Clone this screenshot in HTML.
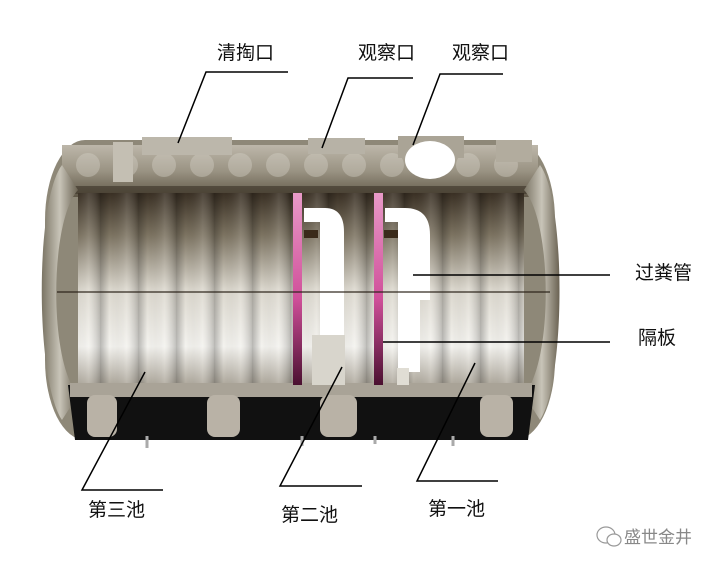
<!DOCTYPE html>
<html><head><meta charset="utf-8"><style>
html,body{margin:0;padding:0;background:#fff;}
svg{display:block}
text{font-family:"Liberation Sans","Noto Sans CJK SC",sans-serif;}
</style></head><body>
<svg width="720" height="567" viewBox="0 0 720 567" xmlns="http://www.w3.org/2000/svg">
<defs>
<linearGradient id="inner" x1="0" y1="0" x2="0" y2="1">
<stop offset="0" stop-color="#3a3024"/>
<stop offset="0.22" stop-color="#7d7462"/>
<stop offset="0.5" stop-color="#dcd8ce"/>
<stop offset="0.8" stop-color="#f4f3ef"/>
<stop offset="1" stop-color="#aea89c"/>
</linearGradient>
<linearGradient id="rib" x1="0" y1="0" x2="1" y2="0">
<stop offset="0" stop-color="#000" stop-opacity="0.25"/>
<stop offset="0.25" stop-color="#000" stop-opacity="0"/>
<stop offset="0.7" stop-color="#fff" stop-opacity="0.12"/>
<stop offset="1" stop-color="#000" stop-opacity="0.2"/>
</linearGradient>
<pattern id="ribs" x="62" y="0" width="38" height="600" patternUnits="userSpaceOnUse">
<rect width="38" height="600" fill="url(#rib)"/>
</pattern>
<linearGradient id="top" x1="0" y1="0" x2="0" y2="1">
<stop offset="0" stop-color="#bdb7aa"/>
<stop offset="0.5" stop-color="#9a9383"/>
<stop offset="1" stop-color="#5f5747"/>
</linearGradient>
<linearGradient id="pink" x1="0" y1="0" x2="0" y2="1">
<stop offset="0" stop-color="#e89ac8"/>
<stop offset="0.55" stop-color="#d0509a"/>
<stop offset="1" stop-color="#4a1030"/>
</linearGradient>
<linearGradient id="endL" x1="0" y1="0" x2="1" y2="0">
<stop offset="0" stop-color="#7a7464"/>
<stop offset="0.5" stop-color="#c8c4b8"/>
<stop offset="1" stop-color="#6a6252"/>
</linearGradient>
</defs>

<rect x="45" y="140" width="510" height="300" rx="40" ry="80" fill="#8e8878"/>
<rect x="62" y="145" width="476" height="52" fill="url(#top)"/>
<g fill="#d6d2c8" opacity="0.4">
<circle cx="88" cy="165" r="12"/><circle cx="126" cy="165" r="12"/><circle cx="164" cy="165" r="12"/><circle cx="202" cy="165" r="12"/><circle cx="240" cy="165" r="12"/><circle cx="278" cy="165" r="12"/><circle cx="316" cy="165" r="12"/><circle cx="354" cy="165" r="12"/><circle cx="392" cy="165" r="12"/><circle cx="468" cy="165" r="12"/><circle cx="506" cy="165" r="12"/>
</g>
<g fill="#3a3226" opacity="0.6">
<rect x="62" y="186" width="476" height="8"/>
</g>
<rect x="142" y="137" width="90" height="18" fill="#bcb7ab"/>
<rect x="308" y="138" width="57" height="16" fill="#b7b2a6"/>
<rect x="398" y="136" width="66" height="22" fill="#aaa496"/>
<ellipse cx="430" cy="160" rx="25" ry="19" fill="#fff"/>
<rect x="113" y="142" width="20" height="40" fill="#c4bfb3"/>
<rect x="496" y="140" width="36" height="22" fill="#b2ac9e"/>
<rect x="78" y="193" width="446" height="192" fill="url(#inner)"/>
<rect x="78" y="193" width="446" height="192" fill="url(#ribs)"/>
<path d="M78 190 C50 220 48 360 78 395 L62 420 C35 380 35 200 62 165 Z" fill="url(#endL)"/>
<path d="M524 190 C552 220 554 360 524 395 L540 420 C566 380 566 200 540 165 Z" fill="url(#endL)"/>
<path d="M68 385 L535 385 L528 440 L75 440 Z" fill="#111"/>
<rect x="70" y="383" width="462" height="14" fill="#a9a397"/>
<g fill="#b9b2a6">
<rect x="87" y="395" width="30" height="42" rx="8"/>
<rect x="207" y="395" width="33" height="42" rx="8"/>
<rect x="320" y="395" width="37" height="42" rx="8"/>
<rect x="480" y="395" width="33" height="42" rx="8"/>
</g>
<g stroke="#aaa" stroke-width="3">
<line x1="147" y1="436" x2="147" y2="448"/><line x1="302" y1="436" x2="302" y2="446"/><line x1="375" y1="436" x2="375" y2="444"/><line x1="453" y1="436" x2="453" y2="446"/>
</g>
<rect x="293" y="193" width="9" height="192" fill="url(#pink)"/>
<rect x="374" y="193" width="9" height="192" fill="url(#pink)"/>
<path d="M304 208 L325 208 Q344 208 344 232 L344 335 L320 335 L320 222 L304 222 Z" fill="#fff"/>
<rect x="312" y="335" width="33" height="50" fill="#d8d5cc"/>
<rect x="304" y="230" width="14" height="8" fill="#3a2a1a"/>
<path d="M385 208 L405 208 Q430 208 430 235 L430 300 L420 300 L420 372 L398 372 L398 222 L385 222 Z" fill="#fff"/>
<rect x="384" y="230" width="14" height="8" fill="#3a2a1a"/>
<rect x="397" y="368" width="12" height="17" fill="#e0ddd4"/>
<line x1="57" y1="292" x2="550" y2="292" stroke="#2a2218" stroke-width="1.5" opacity="0.8"/>

<g stroke="#000" stroke-width="1.5" fill="none">
<polyline points="178,143 206,72 288,72"/>
<polyline points="322,148 348,78 413,78"/>
<polyline points="413,145 440,74 503,74"/>
<line x1="413" y1="275" x2="610" y2="275"/>
<line x1="383" y1="342" x2="610" y2="342"/>
<polyline points="145,372 82,490 163,490"/>
<polyline points="342,367 280,486 362,486"/>
<polyline points="475,363 417,481 498,481"/>
</g>
<g font-size="19" fill="#111">
<text x="217" y="59">清掏口</text>
<text x="358" y="59">观察口</text>
<text x="452" y="59">观察口</text>
<text x="635" y="279">过粪管</text>
<text x="638" y="344">隔板</text>
<text x="88" y="516">第三池</text>
<text x="281" y="521">第二池</text>
<text x="428" y="515">第一池</text>
</g>
<g stroke="#999" stroke-width="1.2" fill="#fff">
<ellipse cx="606" cy="535" rx="9" ry="8"/>
<ellipse cx="614" cy="540" rx="7" ry="6"/>
</g>
<text x="624" y="543" font-size="17" fill="#888">盛世金井</text>
</svg>
</body></html>
